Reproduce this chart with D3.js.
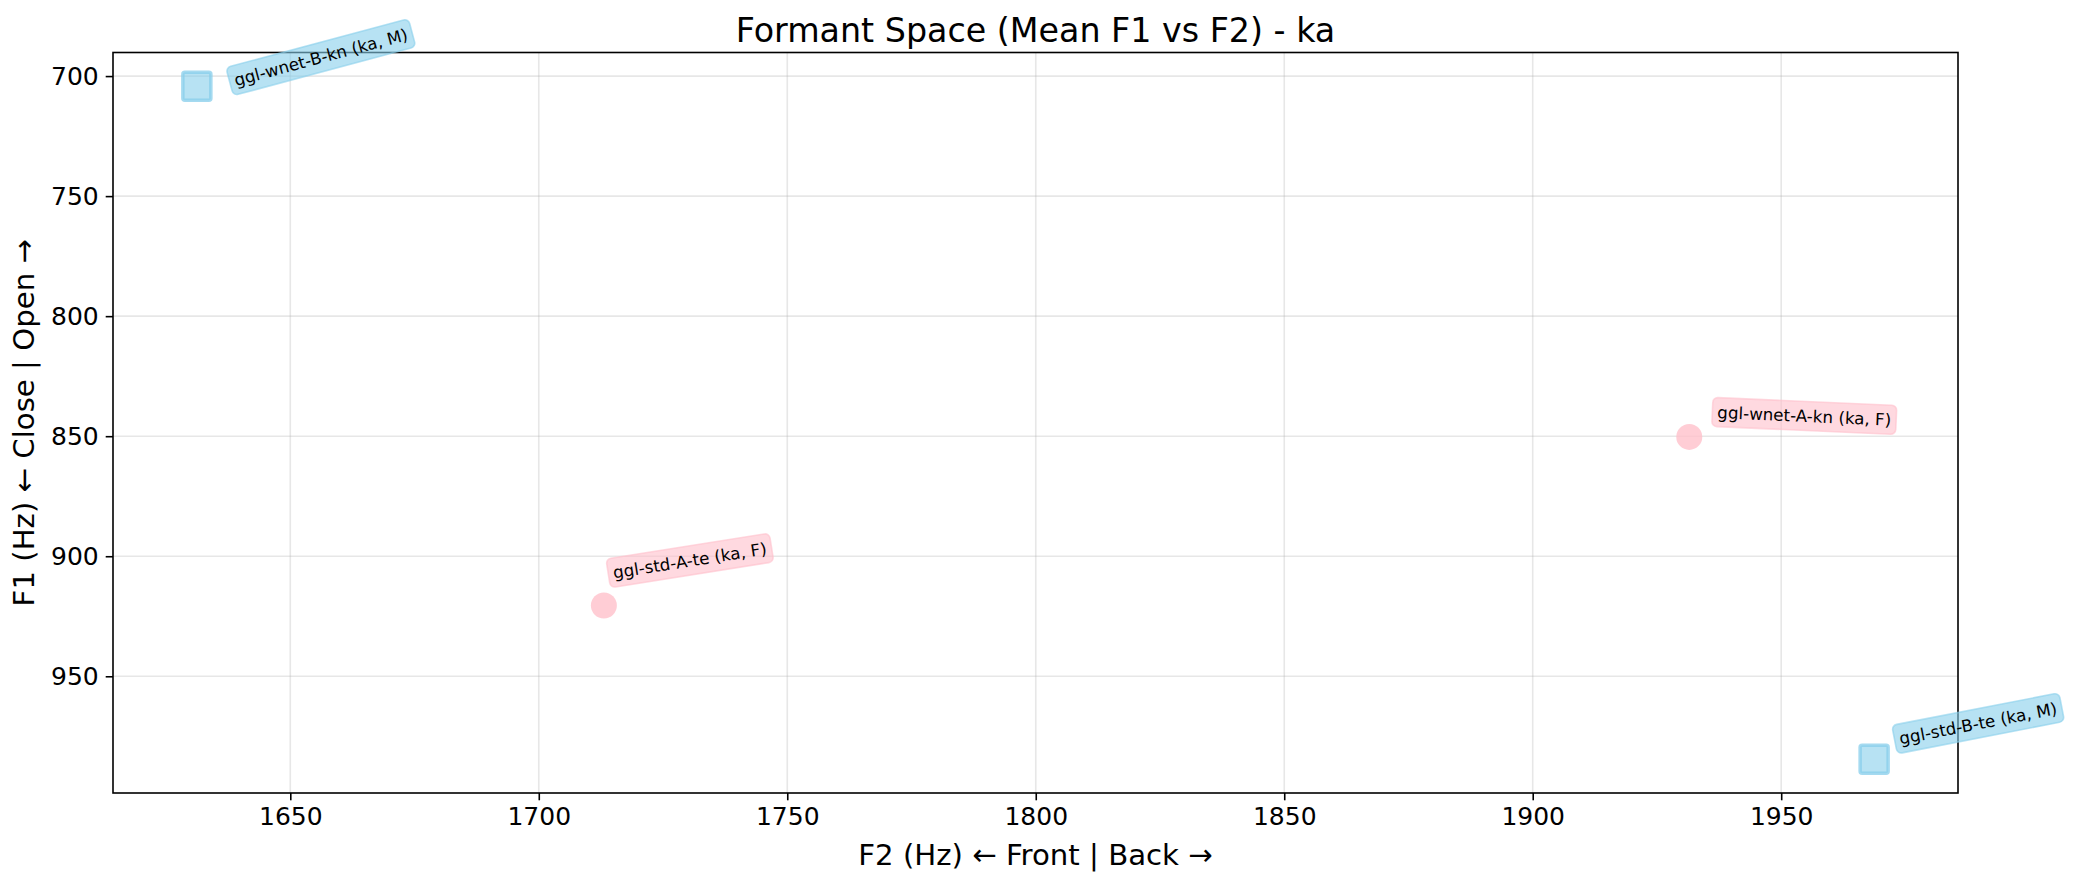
<!DOCTYPE html>
<html>
<head>
<meta charset="utf-8">
<script src="https://cdn.jsdelivr.net/npm/d3@7"></script>
<style>
    body { margin: 0; background: #fff; }
    svg text { font-family: "DejaVu Sans", sans-serif; fill: #000; }
</style>
</head>
<body>
<div id="formantChart"></div>
<script>
    // values
    const syllable = "ka";
    const speakers = ["ggl-wnet-B-kn", "ggl-wnet-A-kn", "ggl-std-A-te", "ggl-std-B-te"];
    const genders = ["M", "F", "F", "M"];
    const meanF2 = [1631.2, 1931.5, 1713.1, 1968.7];
    const meanF1 = [704.2, 850.3, 920.5, 984.6];
    const xTicks = [1650, 1700, 1750, 1800, 1850, 1900, 1950];
    const yTicks = [700, 750, 800, 850, 900, 950];

    // where each label box sits relative to its point (pixels) and its tilt
    const labelPlacement = [
        { dx: 124, dy: -29, angle: -15 },
        { dx: 115, dy: -21, angle: 2.5 },
        { dx: 86, dy: -45, angle: -9 },
        { dx: 104, dy: -36, angle: -11 }
    ];

    const genderColor = { M: "#87ceeb", F: "#ffc0cb" };

    const width = 2073;
    const height = 883;
    const margins = { top: 52.5, right: 115, bottom: 90, left: 113 };
    const chartWidth = width - margins.left - margins.right;
    const chartHeight = height - margins.top - margins.bottom;

    const points = speakers.map((s, i) => ({
        speaker: s,
        gender: genders[i],
        f2: meanF2[i],
        f1: meanF1[i],
        place: labelPlacement[i]
    }));

    // matplotlib style 5% margins around the data
    function padded(values) {
        const [lo, hi] = d3.extent(values);
        const pad = (hi - lo) * 0.05;
        return [lo - pad, hi + pad];
    }

    const svg = d3.select("#formantChart").append("svg")
        .attr("width", width)
        .attr("height", height);

    const chartGroup = svg.append("g")
        .attr("transform", `translate(${margins.left},${margins.top})`);

    const xScale = d3.scaleLinear()
        .domain(padded(meanF2))
        .range([0, chartWidth]);
    // F1 axis is inverted: low values on top
    const yScale = d3.scaleLinear()
        .domain(padded(meanF1))
        .range([0, chartHeight]);

    // Grid
    chartGroup.append("g")
        .selectAll("line")
        .data(xTicks)
        .enter()
        .append("line")
        .attr("x1", d => xScale(d))
        .attr("x2", d => xScale(d))
        .attr("y1", 0)
        .attr("y2", chartHeight)
        .attr("stroke", "#b0b0b0")
        .attr("stroke-opacity", 0.3)
        .attr("stroke-width", 1.6);
    chartGroup.append("g")
        .selectAll("line")
        .data(yTicks)
        .enter()
        .append("line")
        .attr("x1", 0)
        .attr("x2", chartWidth)
        .attr("y1", d => yScale(d))
        .attr("y2", d => yScale(d))
        .attr("stroke", "#b0b0b0")
        .attr("stroke-opacity", 0.3)
        .attr("stroke-width", 1.6);

    // Axes
    const xAxis = d3.axisBottom(xScale)
        .tickValues(xTicks)
        .tickSize(7.3)
        .tickPadding(7)
        .tickFormat(d => d);
    const yAxis = d3.axisLeft(yScale)
        .tickValues(yTicks)
        .tickSize(7.3)
        .tickPadding(7)
        .tickFormat(d => d);

    const gx = chartGroup.append("g")
        .attr("transform", `translate(0,${chartHeight})`)
        .call(xAxis);
    const gy = chartGroup.append("g")
        .call(yAxis);
    [gx, gy].forEach(g => {
        g.select(".domain").remove();
        g.selectAll(".tick line").attr("stroke", "#000").attr("stroke-width", 1.6);
        g.selectAll(".tick text")
            .attr("font-family", "DejaVu Sans")
            .attr("font-size", 25)
            .attr("fill", "#000");
    });

    // Markers
    const markerGroup = chartGroup.append("g");
    points.forEach(d => {
        const cx = xScale(d.f2);
        const cy = yScale(d.f1);
        const col = genderColor[d.gender];
        if (d.gender === "M") {
            markerGroup.append("rect")
                .attr("x", cx - 14)
                .attr("y", cy - 14)
                .attr("width", 28)
                .attr("height", 28)
                .attr("rx", 2)
                .attr("fill", col)
                .attr("fill-opacity", 0.6)
                .attr("stroke", col)
                .attr("stroke-opacity", 0.75)
                .attr("stroke-linejoin", "round")
                .attr("stroke-width", 3.5);
        } else {
            markerGroup.append("circle")
                .attr("cx", cx)
                .attr("cy", cy)
                .attr("r", 13)
                .attr("fill", col)
                .attr("fill-opacity", 0.8);
        }
    });

    // Frame
    chartGroup.append("rect")
        .attr("width", chartWidth)
        .attr("height", chartHeight)
        .attr("fill", "none")
        .attr("stroke", "#000")
        .attr("stroke-width", 1.6);

    // Labels in rounded boxes, drawn on top of everything
    const labelGroup = chartGroup.append("g");
    points.forEach(d => {
        const col = genderColor[d.gender];
        const g = labelGroup.append("g")
            .attr("transform", `translate(${xScale(d.f2) + d.place.dx},${yScale(d.f1) + d.place.dy}) rotate(${d.place.angle})`);
        const txt = g.append("text")
            .attr("text-anchor", "middle")
            .attr("dy", "0.36em")
            .attr("font-size", 16.7)
            .text(`${d.speaker} (${syllable}, ${d.gender})`);
        const w = txt.node().getComputedTextLength() + 10;
        const h = 29;
        g.insert("rect", "text")
            .attr("x", -w / 2)
            .attr("y", -h / 2)
            .attr("width", w)
            .attr("height", h)
            .attr("rx", 5)
            .attr("fill", col)
            .attr("fill-opacity", 0.6)
            .attr("stroke", col)
            .attr("stroke-opacity", 0.6)
            .attr("stroke-width", 1.6);
    });

    // Title and axis labels
    svg.append("text")
        .attr("x", margins.left + chartWidth / 2)
        .attr("y", 42)
        .attr("text-anchor", "middle")
        .attr("font-size", 33.3)
        .text(`Formant Space (Mean F1 vs F2) - ${syllable}`);
    svg.append("text")
        .attr("x", margins.left + chartWidth / 2)
        .attr("y", 865)
        .attr("text-anchor", "middle")
        .attr("font-size", 29.2)
        .text("F2 (Hz) ← Front | Back →");
    svg.append("text")
        .attr("transform", `translate(34,${margins.top + chartHeight / 2}) rotate(-90)`)
        .attr("text-anchor", "middle")
        .attr("font-size", 29.2)
        .text("F1 (Hz) ← Close | Open →");
</script>
</body>
</html>
